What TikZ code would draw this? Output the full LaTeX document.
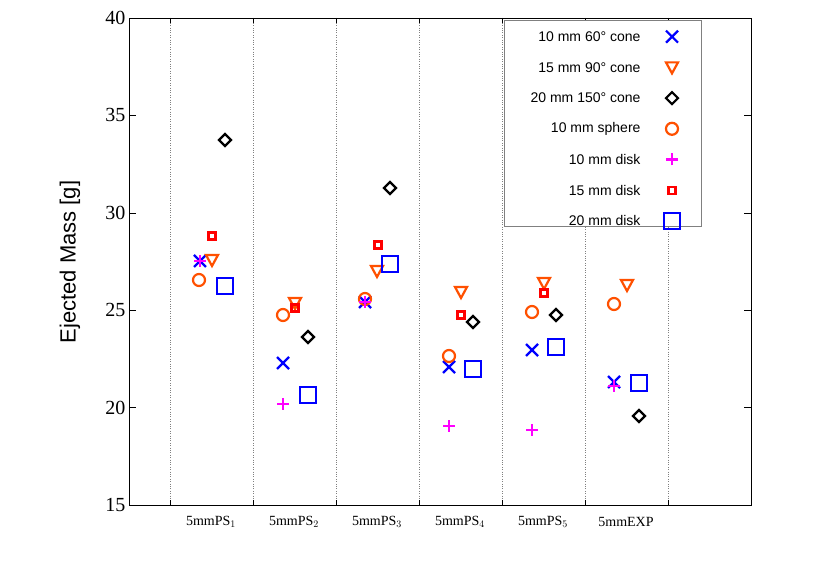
\documentclass[tikz,border=0pt]{standalone}
\usepackage{fontspec}
\setmainfont{Liberation Serif}
\setsansfont{Liberation Sans}
\definecolor{conered}{RGB}{255, 80, 0}
\definecolor{diskpink}{RGB}{255, 0, 255}
\tikzset{
    mk/.style={line width=2.2pt},
    xmark/.pic={\draw[mk, blue] (-6,-6) -- (6,6) (-6,6) -- (6,-6);},
    trimark/.pic={\draw[mk, conered] (-6,5) -- (6,5) -- (0,-6) -- cycle;},
    diamark/.pic={\draw[mk, black] (-6,0) -- (0,6) -- (6,0) -- (0,-6) -- cycle;},
    circmark/.pic={\draw[mk, conered] (0,0) circle (6);},
    plusmark/.pic={\draw[mk, diskpink] (-6,0) -- (6,0) (0,-6) -- (0,6);},
    sqsmall/.pic={\draw[mk, red] (-3.5,-3.5) rectangle (3.5,3.5);},
    sqbig/.pic={\draw[mk, blue] (-8,-8) rectangle (8,8);},
}
% pixel to picture
\newcommand{\pxy}[2]{({#1}, {581-(#2)})}
\begin{document}
\begin{tikzpicture}[x=1pt, y=1pt]
    \useasboundingbox (0,0) rectangle (830,581);
    % grid
    \foreach \gx in {170,253,336,419,502,585,668}
        \draw[gray, dotted] \pxy{\gx}{18} -- \pxy{\gx}{505};
    \draw[thin] \pxy{129}{18} rectangle \pxy{751}{505};
    \foreach \gx in {170,253,336,419,502,585,668} {
        \draw \pxy{\gx}{505} -- ++(0,5);
        \draw \pxy{\gx}{18} -- ++(0,-5);
    }
    \foreach \v in {15,20,...,40} {
        \draw (129, {76+(\v-15)*19.48}) -- ++(7,0)
            node[pos=0, left, font=\fontsize{20}{22}\selectfont] {\v};
        \draw (751, {76+(\v-15)*19.48}) -- ++(-7,0);
    }
    \node[rotate=90, font=\sffamily\fontsize{22}{25}\selectfont] at \pxy{70}{262}
        {Ejected Mass [g]};
    \foreach \lbl [count=\i] in {5mmPS$_1$, 5mmPS$_2$, 5mmPS$_3$, 5mmPS$_4$,
            5mmPS$_5$, 5mmEXP}
        \node[font=\fontsize{14}{16}\selectfont] at \pxy{128+83*\i}{522} {\lbl};
    % data
    \foreach \px/\py in {200/261,283/363,365/302,449/367,532/350,614/382}
        \pic at \pxy{\px}{\py} {xmark};
    \foreach \px/\py in {212/260,295/303,377/271,461/292,544/283,627/285}
        \pic at \pxy{\px}{\py} {trimark};
    \foreach \px/\py in {225/140,308/337,390/188,473/322,556/315,639/416}
        \pic at \pxy{\px}{\py} {diamark};
    \foreach \px/\py in {199/280,283/315,365/299,449/356,532/312,614/304}
        \pic at \pxy{\px}{\py} {circmark};
    \foreach \px/\py in {200/261,283/404,365/302,449/426,532/430,614/386}
        \pic at \pxy{\px}{\py} {plusmark};
    \foreach \px/\py in {212/236,295/308,378/245,461/315,544/293}
        \pic at \pxy{\px}{\py} {sqsmall};
    \foreach \px/\py in {225/286,308/395,390/264,473/369,556/347,639/383}
        \pic at \pxy{\px}{\py} {sqbig};
    % legend
    \draw[gray, fill=white] \pxy{504}{20} rectangle \pxy{701}{226};
    \foreach \lbl/\m [count=\i] in {10 mm 60° cone/xmark, 15 mm 90° cone/trimark,
            20 mm 150° cone/diamark, 10 mm sphere/circmark, 10 mm disk/plusmark,
            15 mm disk/sqsmall, 20 mm disk/sqbig} {
        \node[anchor=east, font=\sffamily\fontsize{14}{16}\selectfont]
            at \pxy{644}{6+30.7*\i} {\lbl};
        \pic at \pxy{672}{6+30.7*\i} {\m};
    }
\end{tikzpicture}
\end{document}
